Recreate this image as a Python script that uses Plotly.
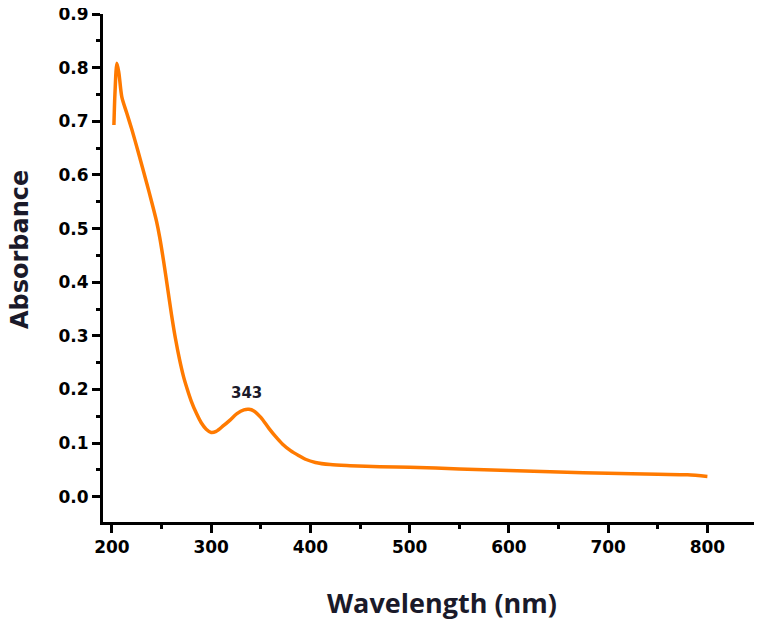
import plotly.graph_objects as go

# UV-Vis spectrum
wavelength = [202, 203, 205, 207, 210, 215, 220, 226, 235, 240, 245, 248, 252, 256,
              260, 264, 268, 272, 276, 280, 285, 290, 295, 300, 305, 312, 319, 326,
              333, 338, 343, 350, 358, 365, 372, 380, 388, 395, 405, 420, 440, 470,
              500, 550, 600, 650, 700, 750, 780, 800]
absorbance = [0.693, 0.75, 0.808, 0.79, 0.745, 0.715, 0.685, 0.646, 0.585, 0.55, 0.513,
              0.485, 0.44, 0.39, 0.34, 0.295, 0.257, 0.225, 0.2, 0.178, 0.156, 0.138,
              0.126, 0.12, 0.122, 0.132, 0.143, 0.155, 0.162, 0.163, 0.16, 0.148,
              0.128, 0.112, 0.098, 0.086, 0.077, 0.07, 0.064, 0.06, 0.058, 0.056,
              0.055, 0.052, 0.049, 0.046, 0.044, 0.042, 0.041, 0.038]

peak_label = "343"
peak_pos = (336, 0.194)

fig = go.Figure()
fig.add_trace(go.Scatter(
    x=wavelength, y=absorbance,
    mode="lines",
    line=dict(color="#ff7a00", width=3.5, shape="spline", smoothing=0.8),
    showlegend=False
))

fig.add_annotation(
    x=peak_pos[0], y=peak_pos[1], text=f"<b>{peak_label}</b>",
    showarrow=False, font=dict(family="DejaVu Sans", size=15, color="#1a1a2a")
)

# axis titles placed as paper annotations so they sit where the reference has them
fig.add_annotation(
    x=0.518, y=-0.159, xref="paper", yref="paper", xanchor="center", yanchor="middle",
    text="<b>Wavelength (nm)</b>", showarrow=False,
    font=dict(family="Open Sans", size=27, color="#1a1a2a")
)
fig.add_annotation(
    x=-0.127, y=0.537, xref="paper", yref="paper", xanchor="center", yanchor="middle",
    text="<b>Absorbance</b>", showarrow=False, textangle=-90,
    font=dict(family="DejaVu Sans", size=24, color="#1a1a2a")
)

axis_common = dict(
    showline=True, linecolor="black", linewidth=3,
    ticks="outside", ticklen=8, tickwidth=3, tickcolor="black",
    showgrid=False, zeroline=False, mirror=False, automargin=False,
    ticklabeloverflow="allow",
    tickfont=dict(family="DejaVu Sans", size=17, color="black", weight="bold"),
)

# the page body adds an 8px offset, so margins are shifted to compensate
fig.update_layout(
    width=762, height=622,
    margin=dict(l=95, r=12, t=6, b=108),
    paper_bgcolor="white", plot_bgcolor="white",
    xaxis=dict(
        range=[191, 851], tick0=200, dtick=100,
        minor=dict(dtick=50, ticks="outside", ticklen=4, tickwidth=3, tickcolor="black"),
        **axis_common
    ),
    yaxis=dict(
        range=[-0.047, 0.9], tick0=0, dtick=0.1, tickformat=".1f",
        minor=dict(dtick=0.05, ticks="outside", ticklen=4, tickwidth=3, tickcolor="black"),
        **axis_common
    ),
)

fig.write_html("out.html")
